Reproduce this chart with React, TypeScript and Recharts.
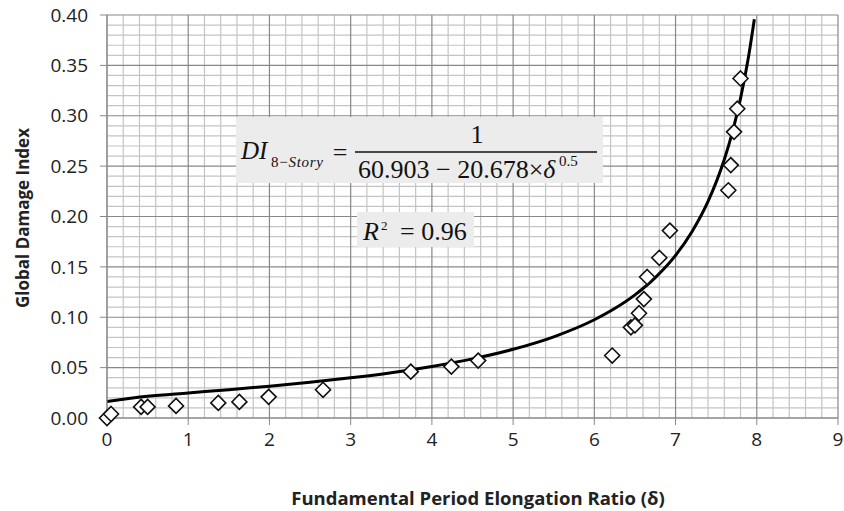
import { ComposedChart, Line, Scatter, XAxis, YAxis, ReferenceLine } from "recharts";

// measured points: fundamental period elongation ratio vs global damage index
const ratio = [0, 0.05, 0.42, 0.5, 0.85, 1.37, 1.63, 1.99, 2.66, 3.74, 4.24, 4.57, 6.22, 6.45, 6.5, 6.55, 6.61, 6.65, 6.8, 6.93, 7.65, 7.68, 7.72, 7.76, 7.8];
const damage = [0.0, 0.004, 0.011, 0.011, 0.012, 0.015, 0.016, 0.021, 0.028, 0.046, 0.051, 0.057, 0.062, 0.09, 0.092, 0.104, 0.118, 0.14, 0.159, 0.186, 0.226, 0.251, 0.284, 0.307, 0.337];

// fitted curve
const fitRatio = [0, 0.5, 1, 1.5, 2, 2.5, 3, 3.5, 4, 4.5, 5, 5.5, 6, 6.25, 6.5, 6.75, 7, 7.2, 7.4, 7.6, 7.7, 7.8, 7.9, 7.97];
const fitDamage = [0.0164, 0.0216, 0.0249, 0.0281, 0.0316, 0.0355, 0.0399, 0.045, 0.0512, 0.0587, 0.0682, 0.0806, 0.0975, 0.1086, 0.1222, 0.1393, 0.1614, 0.1846, 0.2149, 0.2565, 0.2838, 0.3172, 0.3593, 0.3957];

const xTicks = [0, 1, 2, 3, 4, 5, 6, 7, 8, 9];
const yTicks = [0, 0.05, 0.1, 0.15, 0.2, 0.25, 0.3, 0.35, 0.4];

const points = ratio.map((x, i) => ({ x, y: damage[i] }));
const fit = fitRatio.map((x, i) => ({ x, y: fitDamage[i] }));

const xMinor = Array.from({ length: 45 }, (_, i) => +(i * 0.2).toFixed(1)).filter((v) => v % 1 !== 0);
const yMinor = Array.from({ length: 40 }, (_, i) => +(i * 0.01).toFixed(2)).filter((v) => Math.round(v * 100) % 5 !== 0);

const Diamond = (props: any) => {
  const { cx, cy } = props;
  const r = 7.5;
  return (
    <polygon
      points={`${cx},${cy - r} ${cx + r},${cy} ${cx},${cy + r} ${cx - r},${cy}`}
      fill="#fff"
      stroke="#111"
      strokeWidth={1.6}
    />
  );
};

const tickStyle = { fontFamily: "'Open Sans', sans-serif", fontSize: 19, fill: "#222" };
const serif = "'Liberation Serif', 'Times New Roman', serif";

export default function App() {
  return (
    <div style={{ position: "absolute", left: 0, top: 0, width: 844, height: 511, background: "#fff" }}>
      <ComposedChart width={844} height={511} margin={{ top: 15, right: 6, bottom: 33, left: 0 }}>
        {xMinor.map((v) => (
          <ReferenceLine key={"xm" + v} x={v} stroke="#c4c4c4" strokeWidth={1.2} />
        ))}
        {yMinor.map((v) => (
          <ReferenceLine key={"ym" + v} y={v} stroke="#c4c4c4" strokeWidth={1.2} />
        ))}
        {xTicks.map((v) => (
          <ReferenceLine key={"xM" + v} x={v} stroke="#888" strokeWidth={1.2} />
        ))}
        {yTicks.map((v) => (
          <ReferenceLine key={"yM" + v} y={v} stroke="#888" strokeWidth={1.2} />
        ))}
        <XAxis
          type="number"
          dataKey="x"
          domain={[0, 9]}
          ticks={xTicks}
          height={60}
          tickSize={7}
          tickMargin={8}
          axisLine={{ stroke: "#888" }}
          tickLine={{ stroke: "#888" }}
          tick={tickStyle}
        />
        <YAxis
          type="number"
          dataKey="y"
          domain={[0, 0.4]}
          ticks={yTicks}
          width={107}
          tickSize={7}
          tickMargin={12}
          axisLine={{ stroke: "#888" }}
          tickLine={{ stroke: "#888" }}
          tick={tickStyle}
          tickFormatter={(v: number) => v.toFixed(2)}
        />
        <Line data={fit} dataKey="y" type="monotone" stroke="#000" strokeWidth={3} dot={false} isAnimationActive={false} />
        <Scatter data={points} dataKey="y" shape={Diamond} isAnimationActive={false} />
      </ComposedChart>
      <svg width={844} height={511} style={{ position: "absolute", left: 0, top: 0, pointerEvents: "none" }}>
        <text
          x={22}
          y={218}
          transform="rotate(-90 22 218)"
          textAnchor="middle"
          dominantBaseline="central"
          style={{ fontFamily: "'Open Sans', sans-serif", fontSize: 17, fontWeight: 700, fill: "#222" }}
        >
          Global Damage Index
        </text>
        <text
          x={478}
          y={497}
          textAnchor="middle"
          dominantBaseline="central"
          style={{ fontFamily: "'Open Sans', sans-serif", fontSize: 18.5, fontWeight: 700, fill: "#222" }}
        >
          Fundamental Period Elongation Ratio (δ)
        </text>
        <rect x={236} y={117} width={367} height={66} fill="#ececec" />
        <g style={{ fontFamily: serif, fill: "#111" }}>
          <text x={241} y={159} fontSize={25} fontStyle="italic">
            DI
          </text>
          <text x={271} y={167} fontSize={15} textLength={52} lengthAdjust="spacing">
            8−<tspan fontStyle="italic">Story</tspan>
          </text>
          <text x={340} y={161} fontSize={26} textAnchor="middle">
            =
          </text>
          <text x={477} y={143} fontSize={26} textAnchor="middle">
            1
          </text>
          <line x1={355} y1={152} x2={597} y2={152} stroke="#111" strokeWidth={1.7} />
          <text x={358} y={178} fontSize={26}>
            60.903 − 20.678×<tspan fontStyle="italic">δ</tspan>
          </text>
          <text x={559} y={166} fontSize={15}>
            0.5
          </text>
        </g>
        <rect x={357} y={212} width={117} height={35} fill="#ececec" />
        <g style={{ fontFamily: serif, fill: "#111" }}>
          <text x={363} y={240} fontSize={26} fontStyle="italic">
            R
          </text>
          <text x={381} y={230} fontSize={13}>
            2
          </text>
          <text x={400} y={240} fontSize={26}>
            = 0.96
          </text>
        </g>
      </svg>
    </div>
  );
}
